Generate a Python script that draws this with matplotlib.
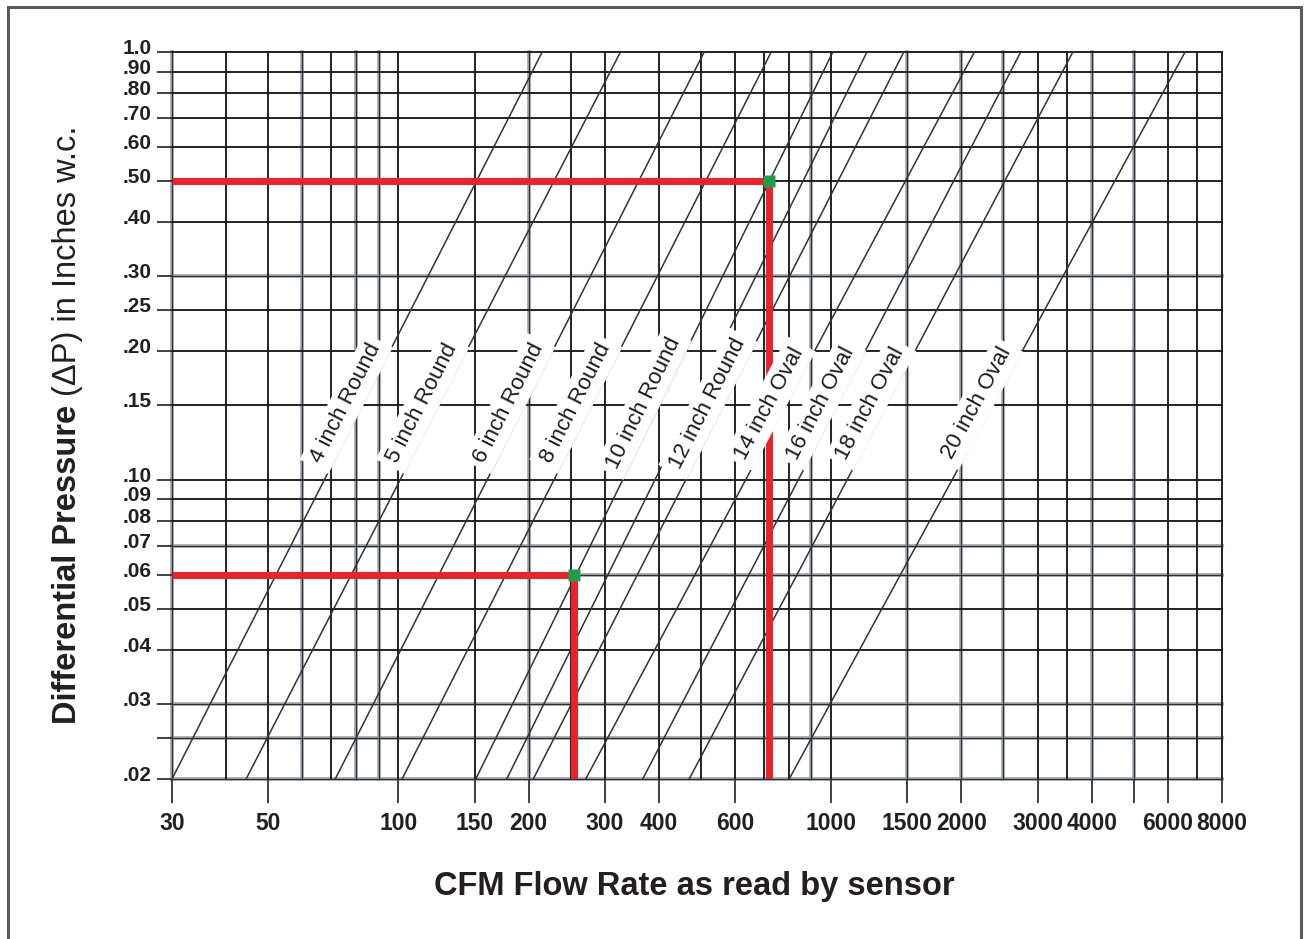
import math
import matplotlib
matplotlib.use('Agg')
import matplotlib.pyplot as plt
from matplotlib.patches import Rectangle
from matplotlib.transforms import ScaledTranslation

# Pressure drop chart for flow sensor ducts
plt.rcParams['font.family'] = ['Liberation Sans', 'DejaVu Sans']

grid_x = [30, 40, 50, 60, 70, 80, 90, 100, 150, 200, 250, 300, 400, 500, 600, 700,
          800, 900, 1000, 1500, 2000, 2500, 3000, 3500, 4000, 5000, 6000, 7000, 8000]
grey_x = [30, 60, 80, 90, 200, 900, 1500, 2000, 2500, 4000, 5000]
grid_y = [1.0, 0.9, 0.8, 0.7, 0.6, 0.5, 0.4, 0.3, 0.25, 0.2, 0.15, 0.1, 0.09, 0.08,
          0.07, 0.06, 0.05, 0.04, 0.03, 0.025, 0.02]
grey_y = [0.3, 0.07, 0.06, 0.03, 0.025, 0.02]

x_ticks = [30, 50, 100, 150, 200, 300, 400, 600, 1000, 1500, 2000, 3000, 4000, 5000, 6000, 8000]
x_labels = ['30', '50', '100', '150', '200', '300', '400', '600', '1000', '1500', '2000',
            '3000', '4000', '', '6000', '8000']
y_ticks = grid_y
y_labels = ['1.0', '.90', '.80', '.70', '.60', '.50', '.40', '.30', '.25', '.20', '.15',
            '.10', '.09', '.08', '.07', '.06', '.05', '.04', '.03', '', '.02']

# each duct line: CFM where it meets .02 and where it meets 1.0
duct_names = ['4 inch Round', '5 inch Round', '6 inch Round', '8 inch Round', '10 inch Round',
              '', '12 inch Round', '14 inch Oval', '16 inch Oval', '18 inch Oval', '20 inch Oval']
cfm_low = [30, 44.5, 71.5, 102, 151, 178, 205, 271, 367, 470, 800]
cfm_high = [215, 326, 509, 727, 1009, 1210, 1472, 2143, 2742, 3618, 6573]
dp_low, dp_high = 0.02, 1.0

# worked examples
ex_cfm = [720, 255]
ex_dp = [0.50, 0.06]

LABEL_DP = 0.151
W, H = 1307, 939

fig = plt.figure(figsize=(W / 100, H / 100), dpi=100)
ax = fig.add_axes([172 / W, 1 - 779 / H, 1050 / W, 727 / H])
ax.set_xscale('log')
ax.set_yscale('log')
ax.set_xlim(30, 8000)
ax.set_ylim(0.02, 1.0)
for s in ax.spines.values():
    s.set_visible(False)

for v in grid_x:
    if v in grey_x:
        ax.axvline(v, color='#9aa1a9', lw=2.6, zorder=1, clip_on=False)
        ax.axvline(v, color='#2e2e2e', lw=0.8, zorder=1.1, clip_on=False)
    else:
        ax.axvline(v, color='#1a1a1a', lw=1.35, zorder=1.1, clip_on=False)
for v in grid_y:
    if v in grey_y:
        ax.axhline(v, color='#9aa1a9', lw=2.6, zorder=1, clip_on=False)
        ax.axhline(v, color='#2e2e2e', lw=0.8, zorder=1.1, clip_on=False)
    else:
        ax.axhline(v, color='#1a1a1a', lw=1.35, zorder=1.1, clip_on=False)

ax.minorticks_off()
ax.set_xticks(x_ticks)
ax.set_xticklabels(x_labels)
ax.set_yticks(y_ticks)
ax.set_yticklabels(y_labels)
ax.tick_params(axis='x', length=17, width=1.3, color='#333333', pad=7,
               labelsize=16.5, labelcolor='#231f20')
ax.tick_params(axis='y', length=11, width=1.3, color='#333333', pad=3.5,
               labelsize=15, labelcolor='#231f20')
for lab in ax.get_xticklabels():
    lab.set_fontweight('bold')
shift_up = ScaledTranslation(0, 4 / 72, fig.dpi_scale_trans)
for lab in ax.get_yticklabels():
    lab.set_fontweight('bold')
    lab.set_transform(lab.get_transform() + shift_up)

for name, lo, hi in zip(duct_names, cfm_low, cfm_high):
    ax.plot([lo, hi], [dp_low, dp_high], color='#333333', lw=1.1, zorder=2)
    if not name:
        continue
    p1 = ax.transData.transform((lo, dp_low))
    p2 = ax.transData.transform((hi, dp_high))
    ang = math.degrees(math.atan2(p2[1] - p1[1], p2[0] - p1[0]))
    f = math.log10(LABEL_DP / dp_low) / math.log10(dp_high / dp_low)
    q = 10 ** (math.log10(lo) + f * (math.log10(hi) - math.log10(lo)))
    ax.annotate(name, xy=(q, LABEL_DP), xytext=(-17, 0), textcoords='offset pixels',
                ha='center', va='center', rotation=ang, rotation_mode='anchor',
                fontsize=16, color='#1a1a1a', zorder=5,
                bbox=dict(boxstyle='square,pad=0.25', facecolor='white', edgecolor='none'))

for q, dp in zip(ex_cfm, ex_dp):
    ax.plot([30, q], [dp, dp], color='#e8232a', lw=5, zorder=3, solid_capstyle='butt')
    ax.plot([q, q], [dp, dp_low], color='#e8232a', lw=5, zorder=3, solid_capstyle='butt')
    ax.plot([q], [dp], marker='s', markersize=8, color='#1f9e48', mec='none', zorder=4)

fig.text(0.5314, 0.0469, 'CFM Flow Rate as read by sensor', ha='center', va='baseline',
         fontsize=23.5, fontweight='bold', color='#231f20')

# y label: bold part then regular part
renderer = fig.canvas.get_renderer()
t1 = fig.text(76 / W, 215 / H, 'Differential Pressure', rotation=90, rotation_mode='anchor',
              ha='left', va='baseline', fontsize=23.5, fontweight='bold', color='#231f20')
ext = t1.get_window_extent(renderer)
fig.text(76 / W, (ext.y1 + 9) / H, '(\u0394P) in Inches w.c.', rotation=90,
         rotation_mode='anchor', ha='left', va='baseline', fontsize=23.5, color='#231f20')

# outer frame
fig.patches.append(Rectangle((8 / W, -0.05), 1293 / W, 1.05 - 7 / H, transform=fig.transFigure,
                             fill=False, edgecolor='#5a5a5a', lw=2.2))

fig.savefig('out.png', dpi=100, facecolor='white')
